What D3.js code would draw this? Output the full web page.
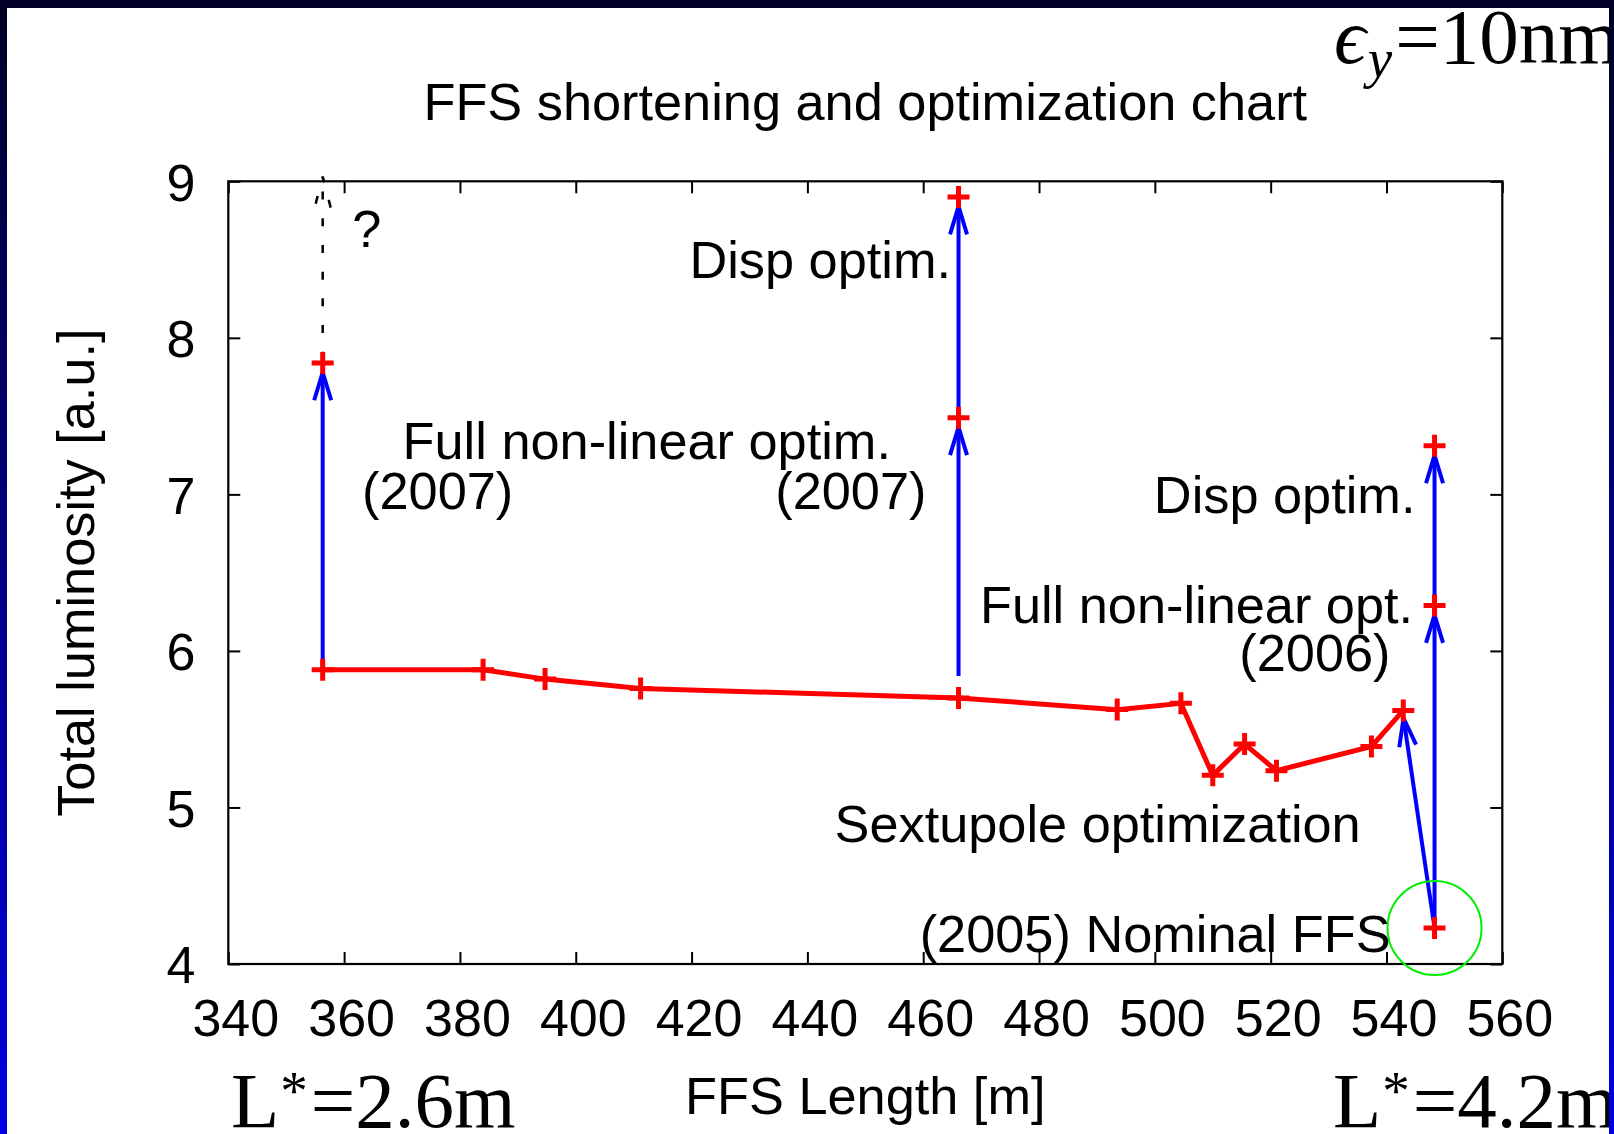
<!DOCTYPE html>
<html>
<head>
<meta charset="utf-8">
<script src="https://cdn.jsdelivr.net/npm/d3@7"></script>
<style>
  body { margin: 0; background: #ffffff; }
  svg { display: block; }
</style>
</head>
<body>
<svg id="chart" width="1614" height="1134"></svg>
<script>
// ---- data -------------------------------------------------------------
const xTickValues = [340, 360, 380, 400, 420, 440, 460, 480, 500, 520, 540, 560];
const yTickValues = [4, 5, 6, 7, 8, 9];

// shortened FFS lattices after sextupole optimization
const ffsLength = [356.3, 384.0, 394.7, 411.2, 466.1, 493.5, 504.5, 510.0, 515.5, 521.0, 537.4, 542.9];
const ffsLumi   = [5.88, 5.88, 5.82, 5.76, 5.70, 5.625, 5.665, 5.205, 5.405, 5.235, 5.39, 5.62];

// further optimization steps and the nominal FFS
const stepLength = [356.3, 466.1, 466.1, 548.3, 548.3, 548.3];
const stepLumi   = [7.84, 7.49, 8.90, 4.23, 6.29, 7.31];
const nominalLength = 548.3;
const nominalLumi = 4.23;

// optimization arrows: start / end in data units
const arrowX0 = [356.3, 466.1, 466.1, 548.3, 548.3, 548.3];
const arrowY0 = [5.88, 5.84, 7.49, 4.23, 6.29, 4.23];
const arrowX1 = [356.3, 466.1, 466.1, 548.3, 548.3, 542.95];
const arrowY1 = [7.78, 7.43, 8.84, 6.23, 7.25, 5.57];

// open question: dashed arrow above the shortest lattice
const questionX = 356.3, questionY0 = 7.86, questionY1 = 9.03;

// annotation texts, anchored in data units
const labelText   = ["Disp optim.", "Full non-linear optim.", "(2007)", "(2007)", "Disp optim.",
                     "Full non-linear opt.", "(2006)", "Sextupole optimization", "(2005) Nominal FFS", "?"];
const labelX      = [464.8, 370.1, 363.1, 460.55, 545.0, 544.6, 540.7, 535.55, 540.7, 361.4];
const labelY      = [8.382, 7.226, 6.907, 6.907, 6.884, 6.178, 5.872, 4.779, 4.077, 8.582];
const labelAnchor = ["end", "start", "start", "end", "end", "end", "end", "end", "end", "start"];

// ---- layout -----------------------------------------------------------
const W = 1614, H = 1134;
const plot = { left: 228.3, right: 1502.3, top: 181.3, bottom: 964 };
const sans = "'Liberation Sans', Arial, Helvetica, sans-serif";
const serif = "'Liberation Serif', 'Times New Roman', 'DejaVu Serif', serif";
const textSize = "52.3px";
const mathSize = 79;

const svg = d3.select("#chart");

// slide frame: navy gradient behind a white sheet
const defs = svg.append("defs");
const grad = defs.append("linearGradient").attr("id", "frameGrad")
  .attr("x1", 0).attr("y1", 0).attr("x2", 0).attr("y2", 1);
grad.append("stop").attr("offset", "0%").attr("stop-color", "#000026");
grad.append("stop").attr("offset", "100%").attr("stop-color", "#0000e2");
svg.append("rect").attr("width", W).attr("height", H).attr("fill", "url(#frameGrad)");

const sheet = { x: 7, y: 8, w: 1602, h: H - 8 };
defs.append("clipPath").attr("id", "sheetClip").append("rect")
  .attr("x", sheet.x).attr("y", sheet.y).attr("width", sheet.w).attr("height", sheet.h);
svg.append("rect").attr("x", sheet.x).attr("y", sheet.y)
  .attr("width", sheet.w).attr("height", sheet.h).attr("fill", "#ffffff");

const g = svg.append("g").attr("clip-path", "url(#sheetClip)");

const x = d3.scaleLinear().domain([340, 560]).range([plot.left, plot.right]);
const y = d3.scaleLinear().domain([4, 9]).range([plot.bottom, plot.top]);

// ---- axes (ticks point inward, mirrored on top/right) -------------------
const tickLen = 12;
function styleAxis(sel) {
  sel.select(".domain").remove();
  sel.selectAll(".tick line").attr("stroke", "#000").attr("stroke-width", 2);
  sel.selectAll(".tick text").attr("fill", "#000").style("font-family", sans).style("font-size", "52px");
}

const xAxisB = g.append("g").attr("transform", `translate(0,${plot.bottom})`)
  .call(d3.axisBottom(x).tickValues(xTickValues).tickSize(-tickLen).tickFormat(d3.format("d")))
  .call(styleAxis);
xAxisB.selectAll(".tick text").attr("x", 7).attr("y", 72).attr("dy", null);

g.append("g").attr("transform", `translate(0,${plot.top})`)
  .call(d3.axisTop(x).tickValues(xTickValues).tickSize(-tickLen).tickFormat(""))
  .call(styleAxis);

const yAxisL = g.append("g").attr("transform", `translate(${plot.left},0)`)
  .call(d3.axisLeft(y).tickValues(yTickValues).tickSize(-tickLen).tickFormat(d3.format("d")))
  .call(styleAxis);
yAxisL.selectAll(".tick text").attr("x", -33).attr("dy", "0.36em");

g.append("g").attr("transform", `translate(${plot.right},0)`)
  .call(d3.axisRight(y).tickValues(yTickValues).tickSize(-tickLen).tickFormat(""))
  .call(styleAxis);

// plot frame
g.append("rect")
  .attr("x", plot.left).attr("y", plot.top)
  .attr("width", plot.right - plot.left).attr("height", plot.bottom - plot.top)
  .attr("fill", "none").attr("stroke", "#000").attr("stroke-width", 2.2);

// ---- titles -----------------------------------------------------------
const cx = (plot.left + plot.right) / 2;
g.append("text").attr("x", cx).attr("y", 119.5).attr("text-anchor", "middle")
  .style("font-family", sans).style("font-size", textSize).text("FFS shortening and optimization chart");

g.append("text").attr("x", cx).attr("y", 1114).attr("text-anchor", "middle")
  .style("font-family", sans).style("font-size", textSize).text("FFS Length [m]");

g.append("text").attr("transform", `translate(94,${(plot.top + plot.bottom) / 2}) rotate(-90)`)
  .attr("text-anchor", "middle")
  .style("font-family", sans).style("font-size", textSize).text("Total luminosity [a.u.]");

// emittance note and final-doublet distances
const eps = g.append("text").attr("x", 1334).attr("y", 63)
  .style("font-family", serif).style("font-size", mathSize + "px");
eps.append("tspan").style("font-style", "italic").text("\u03F5");
eps.append("tspan").style("font-style", "italic").style("font-size", Math.round(mathSize * 0.7) + "px")
  .attr("dy", 14).attr("dx", 2).text("y");
eps.append("tspan").attr("dy", -14).attr("dx", 3).text("=10nm");

function lstar(xpos, value) {
  const t = g.append("text").attr("x", xpos).attr("y", 1127)
    .style("font-family", serif).style("font-size", mathSize + "px");
  t.append("tspan").text("L");
  t.append("tspan").style("font-size", Math.round(mathSize * 0.7) + "px").attr("dy", -18).attr("dx", 1).text("*");
  t.append("tspan").attr("dy", 18).attr("dx", 3).text("=" + value);
}
lstar(231, "2.6m");
lstar(1333, "4.2m");

// ---- optimization arrows ----------------------------------------------
function arrowPath(x0, y0, x1, y1, len, half) {
  const dx = x1 - x0, dy = y1 - y0, L = Math.hypot(dx, dy);
  const ux = dx / L, uy = dy / L;
  const bx = x1 - ux * len, by = y1 - uy * len;
  const px = -uy * half, py = ux * half;
  return {
    shaft: `M${x0},${y0}L${x1},${y1}`,
    head: `M${bx + px},${by + py}L${x1},${y1}L${bx - px},${by - py}`
  };
}

arrowX0.forEach((d, i) => {
  const p = arrowPath(x(arrowX0[i]), y(arrowY0[i]), x(arrowX1[i]), y(arrowY1[i]), 28, 8.5);
  g.append("path").attr("d", p.shaft).attr("fill", "none").attr("stroke", "#0000ff").attr("stroke-width", 4);
  g.append("path").attr("d", p.head).attr("fill", "none").attr("stroke", "#0000ff")
    .attr("stroke-width", 4).attr("stroke-linejoin", "miter");
});

// dashed arrow pointing beyond the plot for the open question
{
  const p = arrowPath(x(questionX), y(questionY0), x(questionX), y(questionY1), 31, 8);
  g.append("path").attr("d", p.shaft).attr("fill", "none").attr("stroke", "#000")
    .attr("stroke-width", 2.5).attr("stroke-dasharray", "8,18.7");
  g.append("path").attr("d", p.head).attr("fill", "none").attr("stroke", "#000")
    .attr("stroke-width", 2.5).attr("stroke-dasharray", "8,18");
}

// ---- luminosity curve and points ---------------------------------------
const curve = ffsLength.map((d, i) => [d, ffsLumi[i]]);
g.append("path").datum(curve)
  .attr("d", d3.line().x(d => x(d[0])).y(d => y(d[1])))
  .attr("fill", "none").attr("stroke", "#ff0000").attr("stroke-width", 5).attr("stroke-linejoin", "miter");

const allPts = curve.concat(stepLength.map((d, i) => [d, stepLumi[i]]));
const cross = 11;
g.append("g").selectAll("path").data(allPts).join("path")
  .attr("d", d => `M${x(d[0]) - cross},${y(d[1])}h${2 * cross}M${x(d[0])},${y(d[1]) - cross}v${2 * cross}`)
  .attr("stroke", "#ff0000").attr("stroke-width", 5).attr("fill", "none");

// highlight of the nominal design
g.append("circle").attr("cx", x(nominalLength)).attr("cy", y(nominalLumi)).attr("r", 47)
  .attr("fill", "none").attr("stroke", "#00ee00").attr("stroke-width", 2);

// ---- annotations --------------------------------------------------------
g.append("g").selectAll("text").data(labelText).join("text")
  .attr("x", (d, i) => x(labelX[i]))
  .attr("y", (d, i) => y(labelY[i]))
  .attr("text-anchor", (d, i) => labelAnchor[i])
  .style("font-family", sans).style("font-size", textSize)
  .text(d => d);
</script>
</body>
</html>
